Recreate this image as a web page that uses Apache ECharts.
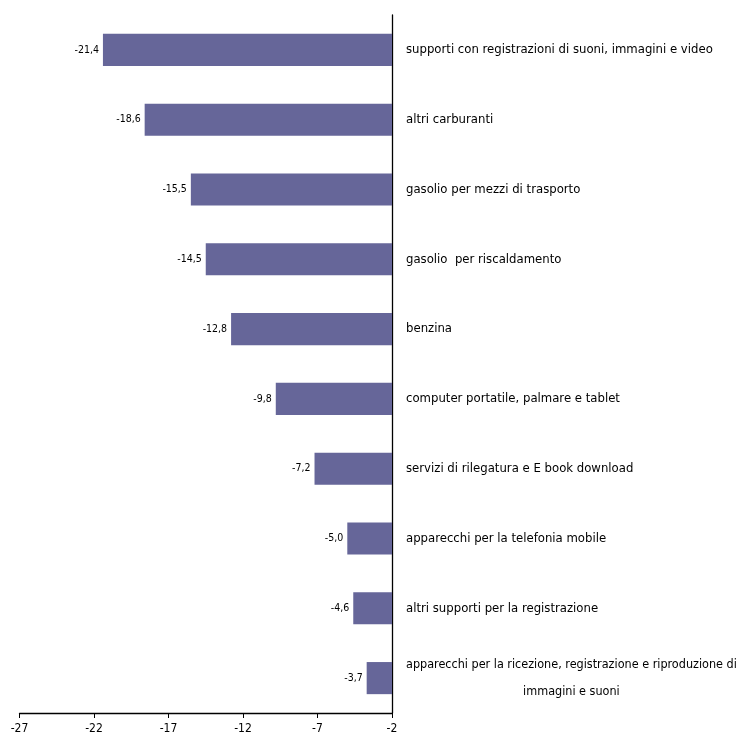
<!DOCTYPE html>
<html><head><meta charset="utf-8">
<script src="https://cdn.jsdelivr.net/npm/echarts@6/dist/echarts.min.js"></script>
<style>html,body{margin:0;padding:0;background:#fff}#c{width:750px;height:742px}</style>
</head><body><div id="c"></div>
<script>
const categories = [
  "supporti con registrazioni di suoni, immagini e video",
  "altri carburanti",
  "gasolio per mezzi di trasporto",
  "gasolio  per riscaldamento",
  "benzina",
  "computer portatile, palmare e tablet",
  "servizi di rilegatura e E book download",
  "apparecchi per la telefonia mobile",
  "altri supporti per la registrazione",
  "apparecchi per la ricezione, registrazione e riproduzione di\nimmagini e suoni"
];
const values = [-21.4, -18.6, -15.5, -14.5, -12.8, -9.8, -7.2, -5.0, -4.6, -3.7];
const xTicks = [-27, -22, -17, -12, -7, -2];

const FONT = "'Liberation Sans Narrow','DejaVu Sans Condensed',sans-serif";
const CAT_SIZE = 13;
const LONG_SIZE = 12.5;
const ctx = document.createElement('canvas').getContext('2d');
ctx.font = LONG_SIZE + 'px ' + FONT;
function w(t) { return ctx.measureText(t).width; }

const chart = echarts.init(document.getElementById('c'));
chart.setOption({
  animation: false,
  grid: {left: 19.5, right: 358, top: 15, bottom: 29, containLabel: false, outerBoundsMode: 'none'},
  xAxis: {
    type: 'value', min: xTicks[0], max: xTicks[xTicks.length-1], interval: 5,
    splitLine: {show: false},
    axisLine: {show: true, lineStyle: {color: '#000', width: 1.3}},
    axisTick: {show: true, length: 5, lineStyle: {color: '#000'}},
    axisLabel: {color: '#000', fontFamily: FONT, fontSize: 12, margin: 10}
  },
  yAxis: {
    type: 'category', data: categories, inverse: true, position: 'right',
    axisLine: {show: true, onZero: false, lineStyle: {color: '#000', width: 1.3}},
    axisTick: {show: false},
    axisLabel: {
      color: '#000', fontFamily: FONT, fontSize: CAT_SIZE, margin: 14,
      formatter: function (v) {
        if (v.indexOf('\n') >= 0) {
          return v.split('\n').map(l => '{c|' + l + '}').join('\n');
        }
        return v;
      },
      rich: {c: {width: w("apparecchi per la ricezione, registrazione e riproduzione di"), align: 'center', fontFamily: FONT, fontSize: LONG_SIZE, lineHeight: 27, color: '#000'}}
    }
  },
  series: [{
    type: 'bar', data: values, barWidth: '46%', clip: true,
    itemStyle: {color: '#666699'},
    label: {
      show: true, position: 'left', distance: 4, color: '#000',
      fontFamily: FONT, fontSize: 10.5,
      formatter: p => p.value.toFixed(1).replace('.', ',')
    }
  }]
});
</script></body></html>
